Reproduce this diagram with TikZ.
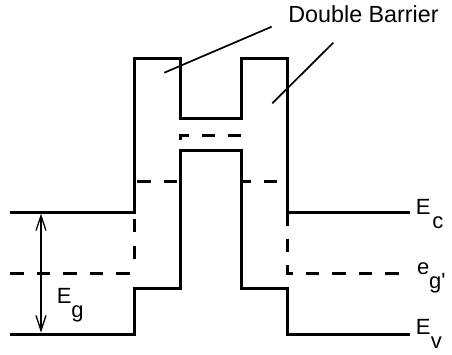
\documentclass[tikz,border=0pt]{standalone}
\usepackage{fontspec}
\setmainfont{Liberation Sans}
\usetikzlibrary{arrows.meta}
\newcommand{\subl}[3][1pt]{#2\kern#1\lower14pt\hbox{#3}}
\begin{document}
\begin{tikzpicture}[x=1pt,y=-1pt,
  band/.style={line width=3pt,line join=miter,line cap=butt},
  dashband/.style={band,dash pattern=on 13.5pt off 13pt},
  leader/.style={line width=1.7pt},
  gaparrow/.style={line width=1.3pt,{Straight Barb[length=15pt,width=10pt]}-{Straight Barb[length=15pt,width=10pt]}},
  lbl/.style={anchor=base west,inner sep=0pt,font=\fontsize{22}{26}\selectfont},
]
\useasboundingbox (0,0) rectangle (452,354);
% conduction band with double barrier
\draw[band] (10,212) -- (134,212) -- (134,58) -- (180,58) -- (180,118)
  -- (241,118) -- (241,58) -- (287,58) -- (287,212) -- (410,212);
% valence band
\draw[band] (10,334) -- (134,334) -- (134,288) -- (180,288) -- (180,150)
  -- (241,150) -- (241,288) -- (287,288) -- (287,334) -- (410,334);
% dashed levels
\draw[dashband] (10,273) -- (134,273);
\draw[band,dash pattern=on 13pt off 14pt,dash phase=13pt] (134,273) -- (134,212);
\draw[dashband] (287,212) -- (287,273) -- (410,273);
\draw[dashband] (180,140) -- (180,135) -- (241,135);
\draw[dashband] (137,181) -- (180,181);
\draw[dashband] (277,181) -- (241,181);
% labels
\node[lbl,font=\fontsize{23.3}{27}\selectfont] (title) at (288.2,22) {Double Barrier};
\node[lbl] (ec) at (415.6,214.3) {\subl[2pt]{E}{c}};
\node[lbl] (egp) at (416.8,274.3) {\subl[0pt]{e}{g\textquotesingle}};
\node[lbl] (ev) at (415.6,334) {\subl[0.4pt]{E}{v}};
\node[lbl] (eg) at (56.6,303.3) {\subl[0pt]{E}{g}};
% leader lines
\coordinate (l1a) at (271.7,26.7);
\coordinate (l1b) at (164.3,72.7);
\coordinate (l2a) at (333.3,42.7);
\coordinate (l2b) at (272.3,103.3);
\draw[leader] (l1a) -- (l1b);
\draw[leader] (l2a) -- (l2b);
% band gap arrow
\coordinate (gtop) at (41,213.5);
\coordinate (gbot) at (41,332.5);
\draw[gaparrow] (gtop) -- (gbot);
\end{tikzpicture}
\end{document}
